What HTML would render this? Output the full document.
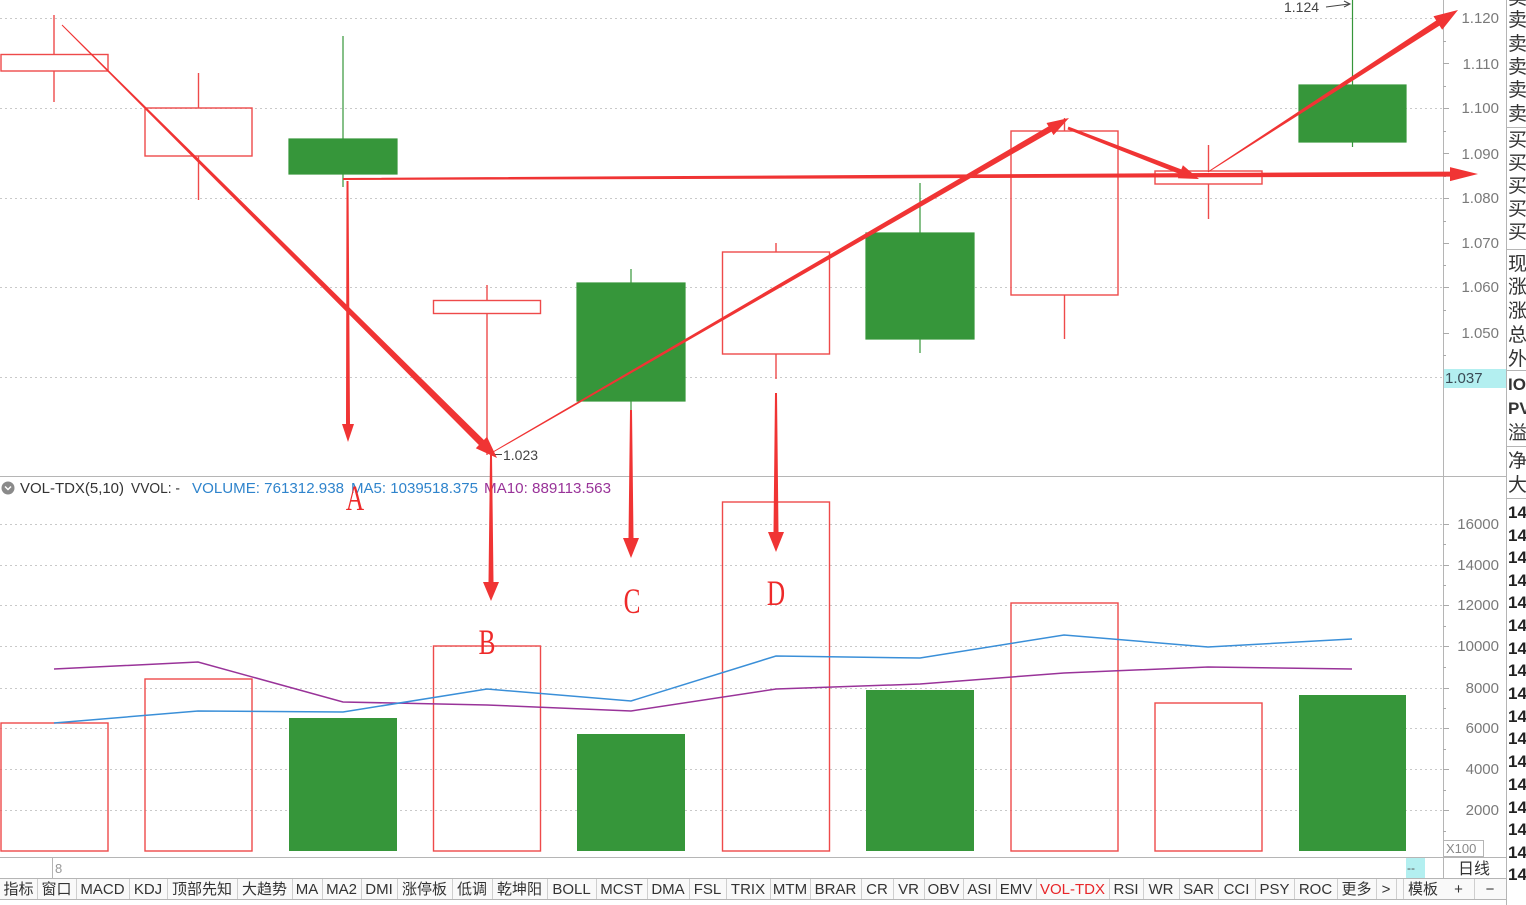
<!DOCTYPE html>
<html><head><meta charset="utf-8">
<style>
html,body{margin:0;padding:0;background:#fff;}
svg{display:block;font-family:"Liberation Sans","Noto Sans CJK SC",sans-serif;}
</style></head>
<body>
<svg width="1526" height="905" viewBox="0 0 1526 905" xmlns="http://www.w3.org/2000/svg">
<rect x="0" y="0" width="1526" height="905" fill="#ffffff"/>

<!-- grid lines price -->
<g stroke="#c9c9c9" stroke-width="1" stroke-dasharray="2,3">
<line x1="0" y1="18.5" x2="1443" y2="18.5"/>
<line x1="0" y1="108.5" x2="1443" y2="108.5"/>
<line x1="0" y1="198.5" x2="1443" y2="198.5"/>
<line x1="0" y1="287.5" x2="1443" y2="287.5"/>
<line x1="0" y1="377.5" x2="1443" y2="377.5"/>
<!-- volume grid -->
<line x1="0" y1="524.5" x2="1443" y2="524.5"/>
<line x1="0" y1="565.5" x2="1443" y2="565.5"/>
<line x1="0" y1="605.5" x2="1443" y2="605.5"/>
<line x1="0" y1="646.5" x2="1443" y2="646.5"/>
<line x1="0" y1="688.5" x2="1443" y2="688.5"/>
<line x1="0" y1="728.5" x2="1443" y2="728.5"/>
<line x1="0" y1="769.5" x2="1443" y2="769.5"/>
<line x1="0" y1="810.5" x2="1443" y2="810.5"/>
</g>

<!-- panel separators -->
<g stroke="#b5b5b5" stroke-width="1">
<line x1="0" y1="476.5" x2="1506" y2="476.5"/>
<line x1="1443.5" y1="0" x2="1443.5" y2="878"/>
<line x1="1506.5" y1="0" x2="1506.5" y2="905"/>
<line x1="0" y1="857.5" x2="1506" y2="857.5"/>
<line x1="0" y1="878.5" x2="1506" y2="878.5"/>
<line x1="0" y1="899.5" x2="1506" y2="899.5"/>
<line x1="52.5" y1="858" x2="52.5" y2="878"/>
</g>

<!-- price axis ticks -->
<g stroke="#aaaaaa" stroke-width="1">
<line x1="1443" y1="18.5" x2="1449" y2="18.5"/><line x1="1443" y1="41.5" x2="1446" y2="41.5"/>
<line x1="1443" y1="63.5" x2="1449" y2="63.5"/><line x1="1443" y1="86.5" x2="1446" y2="86.5"/>
<line x1="1443" y1="108.5" x2="1449" y2="108.5"/><line x1="1443" y1="131.5" x2="1446" y2="131.5"/>
<line x1="1443" y1="153.5" x2="1449" y2="153.5"/><line x1="1443" y1="176.5" x2="1446" y2="176.5"/>
<line x1="1443" y1="198.5" x2="1449" y2="198.5"/><line x1="1443" y1="221.5" x2="1446" y2="221.5"/>
<line x1="1443" y1="243.5" x2="1449" y2="243.5"/><line x1="1443" y1="265.5" x2="1446" y2="265.5"/>
<line x1="1443" y1="287.5" x2="1449" y2="287.5"/><line x1="1443" y1="310.5" x2="1446" y2="310.5"/>
<line x1="1443" y1="333.5" x2="1449" y2="333.5"/><line x1="1443" y1="355.5" x2="1446" y2="355.5"/>
<line x1="1443" y1="524.5" x2="1449" y2="524.5"/><line x1="1443" y1="544.5" x2="1446" y2="544.5"/>
<line x1="1443" y1="565.5" x2="1449" y2="565.5"/><line x1="1443" y1="585.5" x2="1446" y2="585.5"/>
<line x1="1443" y1="605.5" x2="1449" y2="605.5"/><line x1="1443" y1="626.5" x2="1446" y2="626.5"/>
<line x1="1443" y1="646.5" x2="1449" y2="646.5"/><line x1="1443" y1="667.5" x2="1446" y2="667.5"/>
<line x1="1443" y1="688.5" x2="1449" y2="688.5"/><line x1="1443" y1="708.5" x2="1446" y2="708.5"/>
<line x1="1443" y1="728.5" x2="1449" y2="728.5"/><line x1="1443" y1="749.5" x2="1446" y2="749.5"/>
<line x1="1443" y1="769.5" x2="1449" y2="769.5"/><line x1="1443" y1="790.5" x2="1446" y2="790.5"/>
<line x1="1443" y1="810.5" x2="1449" y2="810.5"/><line x1="1443" y1="831.5" x2="1446" y2="831.5"/>
</g>

<!-- price axis labels -->
<g fill="#7a7a7a" font-size="15" text-anchor="end">
<text x="1499" y="23">1.120</text>
<text x="1499" y="69">1.110</text>
<text x="1499" y="113">1.100</text>
<text x="1499" y="159">1.090</text>
<text x="1499" y="203">1.080</text>
<text x="1499" y="248">1.070</text>
<text x="1499" y="292">1.060</text>
<text x="1499" y="338">1.050</text>
<text x="1499" y="529">16000</text>
<text x="1499" y="570">14000</text>
<text x="1499" y="610">12000</text>
<text x="1499" y="651">10000</text>
<text x="1499" y="693">8000</text>
<text x="1499" y="733">6000</text>
<text x="1499" y="774">4000</text>
<text x="1499" y="815">2000</text>
</g>
<rect x="1444" y="369" width="62" height="19" fill="#b3eff0"/>
<text x="1445" y="383" font-size="15" fill="#3a4a55">1.037</text>
<rect x="1443.5" y="840.5" width="40" height="16" fill="none" stroke="#b5b5b5"/>
<text x="1446" y="853" font-size="13" fill="#888">X100</text>

<!-- candles -->
<g stroke="#ee4a4a" stroke-width="1.4" fill="none">
<rect x="1" y="54.5" width="107" height="16.5"/>
<line x1="54" y1="15" x2="54" y2="54.5"/><line x1="54" y1="71" x2="54" y2="102"/>
<rect x="145" y="108" width="107" height="48"/>
<line x1="198.5" y1="73" x2="198.5" y2="108"/><line x1="198.5" y1="156" x2="198.5" y2="200"/>
<rect x="433.5" y="300.5" width="107" height="13"/>
<line x1="487" y1="285" x2="487" y2="300.5"/><line x1="487" y1="313.5" x2="487" y2="455"/>
<rect x="722.5" y="252" width="107" height="102"/>
<line x1="776" y1="243" x2="776" y2="252"/><line x1="776" y1="354" x2="776" y2="379"/>
<rect x="1011" y="131" width="107" height="164"/>
<line x1="1064.5" y1="118" x2="1064.5" y2="131"/><line x1="1064.5" y1="295" x2="1064.5" y2="339"/>
<rect x="1155" y="171" width="107" height="13"/>
<line x1="1208.5" y1="145" x2="1208.5" y2="171"/><line x1="1208.5" y1="184" x2="1208.5" y2="219"/>
</g>
<g fill="#36963a" stroke="#36963a" stroke-width="1.2">
<line x1="343" y1="36" x2="343" y2="187"/>
<rect x="289" y="139" width="108" height="35"/>
<line x1="631" y1="269" x2="631" y2="411"/>
<rect x="577" y="283" width="108" height="118"/>
<line x1="920" y1="183" x2="920" y2="353"/>
<rect x="866" y="233" width="108" height="106"/>
<line x1="1352.5" y1="0" x2="1352.5" y2="147"/>
<rect x="1299" y="85" width="107" height="57"/>
</g>

<!-- extremes labels -->
<text x="1284" y="12" font-size="14" fill="#444">1.124</text>
<line x1="1326" y1="7" x2="1349" y2="4" stroke="#444" stroke-width="1"/>
<polyline points="1344,1 1350,4 1344,7" fill="none" stroke="#444" stroke-width="1"/>
<line x1="495" y1="454.5" x2="502" y2="454.5" stroke="#444" stroke-width="1"/>
<text x="503" y="460" font-size="14" fill="#444">1.023</text>

<!-- volume bars -->
<g stroke="#ee4a4a" stroke-width="1.4" fill="none">
<rect x="1" y="723" width="107" height="128"/>
<rect x="145" y="679" width="107" height="172"/>
<rect x="433.5" y="646" width="107" height="205"/>
<rect x="722.5" y="502" width="107" height="349"/>
<rect x="1011" y="603" width="107" height="248"/>
<rect x="1155" y="703" width="107" height="148"/>
</g>
<g fill="#36963a">
<rect x="289" y="718" width="108" height="133"/>
<rect x="577" y="734" width="108" height="117"/>
<rect x="866" y="690" width="108" height="161"/>
<rect x="1299" y="695" width="107" height="156"/>
</g>

<!-- MA lines -->
<polyline fill="none" stroke="#993399" stroke-width="1.5" points="54,669 198,662 343,702 487,705 631,711 776,689 920,684 1064,673 1208,667 1352,669"/>
<polyline fill="none" stroke="#3a8fd8" stroke-width="1.5" points="54,723 198,711 343,712 487,689 631,701 776,656 920,658 1064,635 1208,647 1352,639"/>

<!-- volume header -->
<circle cx="8" cy="488" r="6.5" fill="#8a8a8a"/>
<polyline points="5,486.5 8,489.5 11,486.5" fill="none" stroke="#fff" stroke-width="1.5"/>
<text x="20" y="493" font-size="15" fill="#333" textLength="104" lengthAdjust="spacingAndGlyphs">VOL-TDX(5,10)</text>
<text x="131" y="493" font-size="15" fill="#333" textLength="49" lengthAdjust="spacingAndGlyphs">VVOL: -</text>
<text x="192" y="493" font-size="15" fill="#2f84cc" textLength="152" lengthAdjust="spacingAndGlyphs">VOLUME: 761312.938</text>
<text x="351" y="493" font-size="15" fill="#2f84cc" textLength="127" lengthAdjust="spacingAndGlyphs">MA5: 1039518.375</text>
<text x="484" y="493" font-size="15" fill="#993399" textLength="127" lengthAdjust="spacingAndGlyphs">MA10: 889113.563</text>

<!-- annotation arrows -->
<g fill="#f03434">
<polygon points="61.65,25.35 478.9,445.0 475.8,448.2 497,458 487.0,436.8 483.9,440.0 62.35,24.65"/>
<polygon points="343,180 1450,176.6 1450,181.1 1478,174 1450,167.1 1450,171.6 343,178"/>
<polygon points="346.5,181 346,424 342,424 348,442 354,424 350,424 348.5,181"/>
<polygon points="493.25,452.43 1051.5,131.6 1053.5,135.1 1069,118 1046.5,123.0 1048.5,126.4 492.75,451.57"/>
<polygon points="1067.5,129.4 1179.5,174.0 1177.9,178.2 1199,179 1182.9,165.2 1181.3,169.4 1068.5,126.6"/>
<polygon points="1208.27,172.42 1439.5,25.6 1442.2,29.8 1458,10 1433.5,16.3 1436.2,20.5 1207.73,171.58"/>
<polygon points="490,455 488.5,582 483,582 491,601 499,582 493.5,582 492,455"/>
<polygon points="630,410 628.5,538 623,538 631,558 639,538 633.5,538 632,410"/>
<polygon points="775,393 773.5,532 768,532 776,552 784,532 778.5,532 777,393"/>
</g>
<g fill="#ee2a2a" font-family="'Liberation Serif',serif" font-size="36" text-anchor="middle">
<text transform="translate(355,510) scale(0.7,1)">A</text>
<text transform="translate(487,654) scale(0.7,1)">B</text>
<text transform="translate(632,613) scale(0.7,1)">C</text>
<text transform="translate(776,605) scale(0.7,1)">D</text>
</g>

<!-- bottom info row -->
<text x="55" y="873" font-size="13" fill="#999">8</text>
<rect x="1406" y="858" width="19" height="20" fill="#b3eff0"/>
<text x="1407" y="872" font-size="12" fill="#555">--</text>
<text x="1474" y="874" font-size="16" fill="#333" text-anchor="middle">日线</text>

<!-- tab bar -->
<rect x="0" y="879" width="1506" height="20" fill="#f9f9f9"/>
<g stroke="#cfcfcf" stroke-width="1">
<line x1="37.5" y1="879" x2="37.5" y2="899"/><line x1="76.5" y1="879" x2="76.5" y2="899"/>
<line x1="129.5" y1="879" x2="129.5" y2="899"/><line x1="167.5" y1="879" x2="167.5" y2="899"/>
<line x1="237.5" y1="879" x2="237.5" y2="899"/><line x1="292.5" y1="879" x2="292.5" y2="899"/>
<line x1="322.5" y1="879" x2="322.5" y2="899"/><line x1="361.5" y1="879" x2="361.5" y2="899"/>
<line x1="397.5" y1="879" x2="397.5" y2="899"/><line x1="452.5" y1="879" x2="452.5" y2="899"/>
<line x1="492.5" y1="879" x2="492.5" y2="899"/><line x1="547.5" y1="879" x2="547.5" y2="899"/>
<line x1="596.5" y1="879" x2="596.5" y2="899"/><line x1="647.5" y1="879" x2="647.5" y2="899"/>
<line x1="689.5" y1="879" x2="689.5" y2="899"/><line x1="726.5" y1="879" x2="726.5" y2="899"/>
<line x1="770.5" y1="879" x2="770.5" y2="899"/><line x1="810.5" y1="879" x2="810.5" y2="899"/>
<line x1="861.5" y1="879" x2="861.5" y2="899"/><line x1="893.5" y1="879" x2="893.5" y2="899"/>
<line x1="924.5" y1="879" x2="924.5" y2="899"/><line x1="963.5" y1="879" x2="963.5" y2="899"/>
<line x1="996.5" y1="879" x2="996.5" y2="899"/><line x1="1036.5" y1="879" x2="1036.5" y2="899"/>
<line x1="1109.5" y1="879" x2="1109.5" y2="899"/><line x1="1143.5" y1="879" x2="1143.5" y2="899"/>
<line x1="1179.5" y1="879" x2="1179.5" y2="899"/><line x1="1218.5" y1="879" x2="1218.5" y2="899"/>
<line x1="1255.5" y1="879" x2="1255.5" y2="899"/><line x1="1294.5" y1="879" x2="1294.5" y2="899"/>
<line x1="1337.5" y1="879" x2="1337.5" y2="899"/><line x1="1376.5" y1="879" x2="1376.5" y2="899"/>
<line x1="1396.5" y1="879" x2="1396.5" y2="899"/><line x1="1403.5" y1="879" x2="1403.5" y2="899"/>
<line x1="1474.5" y1="879" x2="1474.5" y2="899"/>
</g>
<g font-size="15" fill="#333" text-anchor="middle">
<text x="18.5" y="894">指标</text>
<text x="56.5" y="894">窗口</text>
<text x="102.5" y="894">MACD</text>
<text x="148" y="894">KDJ</text>
<text x="202" y="894">顶部先知</text>
<text x="264.5" y="894">大趋势</text>
<text x="307" y="894">MA</text>
<text x="341.5" y="894">MA2</text>
<text x="379" y="894">DMI</text>
<text x="424.5" y="894">涨停板</text>
<text x="472" y="894">低调</text>
<text x="519.5" y="894">乾坤阳</text>
<text x="571.5" y="894">BOLL</text>
<text x="621.5" y="894">MCST</text>
<text x="668" y="894">DMA</text>
<text x="707.5" y="894">FSL</text>
<text x="748" y="894">TRIX</text>
<text x="790" y="894">MTM</text>
<text x="835.5" y="894">BRAR</text>
<text x="877" y="894">CR</text>
<text x="908.5" y="894">VR</text>
<text x="943.5" y="894">OBV</text>
<text x="979.5" y="894">ASI</text>
<text x="1016" y="894">EMV</text>
<text x="1072.5" y="894" fill="#e8262a">VOL-TDX</text>
<text x="1126" y="894">RSI</text>
<text x="1161" y="894">WR</text>
<text x="1198.5" y="894">SAR</text>
<text x="1236.5" y="894">CCI</text>
<text x="1274.5" y="894">PSY</text>
<text x="1315.5" y="894">ROC</text>
<text x="1356.5" y="894">更多</text>
<text x="1386" y="894">&gt;</text>
<text x="1423" y="894">模板</text>
<text x="1458.5" y="894">+</text>
<text x="1490" y="894">−</text>
</g>

<!-- far right column -->
<g stroke="#b5b5b5" stroke-width="1">
<line x1="1506" y1="127.5" x2="1526" y2="127.5"/>
<line x1="1506" y1="249.5" x2="1526" y2="249.5"/>
<line x1="1506" y1="370.5" x2="1526" y2="370.5"/>
<line x1="1506" y1="446.5" x2="1526" y2="446.5"/>
<line x1="1506" y1="498.5" x2="1526" y2="498.5"/>
</g>
<g font-size="19" fill="#333">
<text x="1508" y="4">卖</text>
<text x="1508" y="26">卖</text>
<text x="1508" y="50">卖</text>
<text x="1508" y="73">卖</text>
<text x="1508" y="96">卖</text>
<text x="1508" y="120">卖</text>
<text x="1508" y="146">买</text>
<text x="1508" y="169">买</text>
<text x="1508" y="192">买</text>
<text x="1508" y="215">买</text>
<text x="1508" y="238">买</text>
<text x="1508" y="270">现</text>
<text x="1508" y="293">涨</text>
<text x="1508" y="317">涨</text>
<text x="1508" y="341">总</text>
<text x="1508" y="365">外</text>
<text x="1508" y="390" font-weight="bold" font-size="17">IO</text>
<text x="1508" y="414" font-weight="bold" font-size="17">PV</text>
<text x="1508" y="439">溢</text>
<text x="1508" y="467">净</text>
<text x="1508" y="491">大</text>
</g>
<g font-size="17" font-weight="bold" fill="#222">
<text x="1508" y="518">14</text><text x="1508" y="541">14</text>
<text x="1508" y="563">14</text><text x="1508" y="586">14</text>
<text x="1508" y="608">14</text><text x="1508" y="631">14</text>
<text x="1508" y="654">14</text><text x="1508" y="676">14</text>
<text x="1508" y="699">14</text><text x="1508" y="722">14</text>
<text x="1508" y="744">14</text><text x="1508" y="767">14</text>
<text x="1508" y="790">14</text><text x="1508" y="813">14</text>
<text x="1508" y="835">14</text><text x="1508" y="858">14</text>
<text x="1508" y="880">14</text>
</g>
</svg>
</body></html>
